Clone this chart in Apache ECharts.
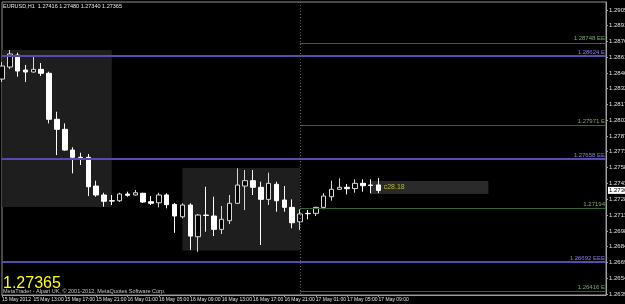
<!DOCTYPE html>
<html>
<head>
<meta charset="UTF-8">
<title>EURUSD H1</title>
<script src="https://cdn.jsdelivr.net/npm/echarts@6/dist/echarts.min.js"></script>
<style>
    html, body { margin: 0; padding: 0; background: #000; }
    #main { width: 625px; height: 304px; }
</style>
</head>
<body>
<div id="main"></div>
<script>
    // hourly bars, 15 May 2012 09:00 .. 17 May 2012 09:00
    const opens  = [1.28408,1.28521,1.28633,1.28493,1.28474,1.28499,1.28462,1.28031,1.27937,1.27743,
                    1.27675,1.27675,1.27406,1.27322,1.27268,1.27268,1.27331,1.27322,1.27338,1.27259,
                    1.27249,1.27322,1.27234,1.27118,1.27228,1.26931,1.27134,1.27125,1.27000,1.27081,
                    1.27244,1.27406,1.27456,1.27394,1.27281,1.27422,1.27275,1.27206,1.27071,1.27150,
                    1.27150,1.27206,1.27306,1.27375,1.27394,1.27382,1.27431,1.27415,1.27416];
    const highs  = [1.28568,1.28680,1.28655,1.28540,1.28617,1.28558,1.28477,1.28102,1.27993,1.27769,
                    1.27718,1.27706,1.27456,1.27343,1.27322,1.27343,1.27353,1.27368,1.27343,1.27312,
                    1.27343,1.27338,1.27247,1.27244,1.27244,1.27144,1.27399,1.27306,1.27219,1.27322,
                    1.27572,1.27556,1.27556,1.27446,1.27531,1.27446,1.27406,1.27281,1.27188,1.27181,
                    1.27212,1.27338,1.27456,1.27478,1.27425,1.27469,1.27469,1.27469,1.27480];
    const lows   = [1.28380,1.28502,1.28430,1.28380,1.28469,1.28437,1.27993,1.27696,1.27737,1.27525,
                    1.27603,1.27312,1.27306,1.27212,1.27228,1.27256,1.27306,1.27317,1.27247,1.27228,
                    1.27206,1.27197,1.26968,1.27103,1.26806,1.26790,1.26978,1.26937,1.26956,1.27050,
                    1.27237,1.27181,1.27322,1.26853,1.27228,1.27165,1.27165,1.27010,1.26994,1.27094,
                    1.27125,1.27188,1.27268,1.27373,1.27328,1.27343,1.27353,1.27338,1.27340];
    const closes = [1.28530,1.28643,1.28483,1.28474,1.28499,1.28462,1.28031,1.27937,1.27743,1.27675,
                    1.27673,1.27399,1.27322,1.27263,1.27265,1.27331,1.27319,1.27343,1.27256,1.27244,
                    1.27322,1.27231,1.27125,1.27228,1.26937,1.27134,1.27130,1.27000,1.27094,1.27244,
                    1.27415,1.27456,1.27394,1.27281,1.27431,1.27268,1.27206,1.27062,1.27144,1.27147,
                    1.27206,1.27312,1.27375,1.27394,1.27381,1.27431,1.27409,1.27412,1.27365];

    const timeLabels = ['15 May 2012','15 May 13:00','15 May 17:00','15 May 21:00','16 May 01:00',
                        '16 May 05:00','16 May 09:00','16 May 13:00','16 May 17:00','16 May 21:00',
                        '17 May 01:00','17 May 05:00','17 May 09:00'];
    const priceLabels = ['1.29055','1.28910','1.28760','1.28615','1.28465','1.28320','1.28170',
                         '1.28025','1.27875','1.27730','1.27580','1.27430','1.27285','1.27135',
                         '1.26985','1.26840','1.26690','1.26545','1.26395'];

    // level lines drawn on the chart
    const purpleLevels = [1.28624, 1.27658, 1.26692];
    const purpleTexts  = ['1.28624 E', '1.27658 EE', '1.26692 EEE'];
    const greenLevels  = [1.28748, 1.27971, 1.27194, 1.26416];
    const greenTexts   = ['1.28748 EE', '1.27971 E', '1.27194', '1.26416 E'];

    const lastPrice = 1.27365;
    const yMin = 1.26385, yMax = 1.29130;
    const totalSlots = 78;   // chart shift leaves empty space on the right
    const levelStart = 38;   // bar where the green levels begin

    let categories = [];
    for (let i = 0; i < totalSlots; i++) {
        categories.push('h' + i);
    }
    let candles = opens.map(function (o, i) {
        return [o, closes[i], lows[i], highs[i]];
    });
    const tickValues = priceLabels.map(Number);

    function hLine(from, v, color, width, text, textColor) {
        return [
            {coord: [from, v],
             lineStyle: {color: color, width: width, type: 'solid'},
             label: {show: true, position: 'insideEndTop', formatter: text,
                     color: textColor, fontSize: 6, distance: 1, fontFamily: 'Liberation Sans'}},
            {coord: [totalSlots - 1, v]}
        ];
    }

    let lineData = [];
    purpleLevels.forEach(function (v, i) {
        lineData.push(hLine(0, v, '#5b48b0', 2, purpleTexts[i], '#8a78e8'));
    });
    greenLevels.forEach(function (v, i) {
        lineData.push(hLine(levelStart, v, '#35633a', 1, greenTexts[i], '#7aa86a'));
    });
    lineData.push([
        {coord: [levelStart, yMax], lineStyle: {color: '#5a5a5a', width: 1, type: [1, 2]}, label: {show: false}},
        {coord: [levelStart, yMin]}
    ]);
    // bid price tag on the price scale
    lineData.push([
        {coord: [totalSlots - 2, lastPrice], lineStyle: {color: 'rgba(0,0,0,0)', width: 0},
         label: {show: true, position: 'end', formatter: lastPrice.toFixed(5), color: '#000',
                 backgroundColor: '#ffffff', fontSize: 6, padding: [1, 2, 0, 1], distance: 2,
                 fontFamily: 'Liberation Sans'}},
        {coord: [totalSlots - 1, lastPrice]}
    ]);

    let chart = echarts.init(document.getElementById('main'), null, {renderer: 'canvas'});

    let option = {
        backgroundColor: '#000',
        animation: false,
        grid: {left: 2, right: 19, top: 2, bottom: 9, show: true, borderColor: '#909090', borderWidth: 1,
               containLabel: false, outerBoundsMode: 'none'},
        xAxis: {
            type: 'category',
            data: categories,
            boundaryGap: false,
            axisLine: {lineStyle: {color: '#a0a0a0'}},
            axisTick: {
                show: true, length: 2, lineStyle: {color: '#a0a0a0'},
                interval: function (idx) { return idx % 4 === 0 && idx <= 48; }
            },
            axisLabel: {
                color: '#e0e0e0', fontSize: 5, margin: 2, align: 'left',
                fontFamily: 'Liberation Sans', showMinLabel: true, hideOverlap: false,
                interval: function (idx) { return idx % 4 === 0 && idx <= 48; },
                formatter: function (v, idx) { return timeLabels[idx / 4] || ''; }
            },
            splitLine: {show: false}
        },
        yAxis: {
            type: 'value',
            position: 'right',
            min: yMin,
            max: yMax,
            axisLine: {show: true, lineStyle: {color: '#a0a0a0'}},
            axisTick: {show: true, length: 2, customValues: tickValues, lineStyle: {color: '#a0a0a0'}},
            axisLabel: {
                color: '#e0e0e0', fontSize: 6, margin: 3, fontFamily: 'Liberation Sans',
                customValues: tickValues, hideOverlap: false,
                formatter: function (v) { return v.toFixed(5); }
            },
            splitLine: {show: false}
        },
        series: [{
            type: 'candlestick',
            data: candles,
            barWidth: 5,
            itemStyle: {
                color: '#000',
                color0: '#ffffff',
                borderColor: '#d8d8d8',
                borderColor0: '#ffffff',
                borderWidth: 1
            },
            markArea: {
                silent: true,
                data: [
                    [{coord: [0, 1.28680], itemStyle: {color: '#1e1e1e'}}, {coord: [14, 1.27209]}],
                    [{coord: [23, 1.27575], itemStyle: {color: '#1e1e1e'}}, {coord: [38, 1.26801]}],
                    [{coord: [47, 1.27453], itemStyle: {color: '#2a2a2a'},
                      label: {show: true, position: 'insideLeft', distance: 13, formatter: 'c28.18',
                              color: '#b8b830', fontSize: 7}},
                     {coord: [62, 1.27331]}]
                ]
            },
            markLine: {
                silent: true,
                symbol: 'none',
                clip: false,
                data: lineData
            },
            z: 3
        }],
        graphic: [
            {type: 'text', left: 3, top: 3, z: 10,
             style: {text: 'EURUSD,H1  1.27416 1.27480 1.27340 1.27365', fill: '#e8e8e8',
                     font: '5.5px "Liberation Sans"'}},
            {type: 'text', left: 3, top: 276, z: 10,
             style: {text: lastPrice.toFixed(5), fill: '#ffff00', font: '16px "Liberation Sans"'}},
            {type: 'text', left: 3, top: 288, z: 9,
             style: {text: 'MetaTrader - Alpari UK, \u00a9 2001-2012, MetaQuotes Software Corp.',
                     fill: '#c8c8c8', font: '5.5px "Liberation Sans"'}}
        ]
    };

    chart.setOption(option);
</script>
</body>
</html>
